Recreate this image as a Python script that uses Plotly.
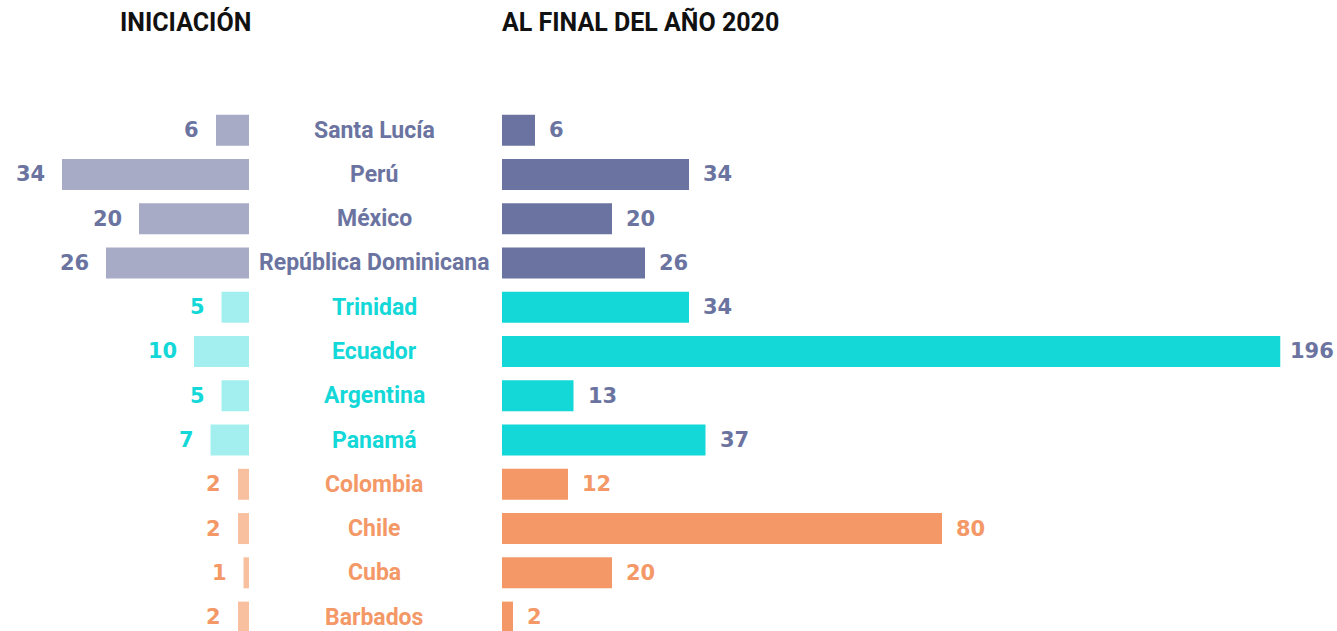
import plotly.graph_objects as go

countries = ["Santa Lucía", "Perú", "México", "República Dominicana", "Trinidad",
             "Ecuador", "Argentina", "Panamá", "Colombia", "Chile", "Cuba", "Barbados"]
inicio = [6, 34, 20, 26, 5, 10, 5, 7, 2, 2, 1, 2]
final_2020 = [6, 34, 20, 26, 34, 196, 13, 37, 12, 80, 20, 2]
group = ["a", "a", "a", "a", "b", "b", "b", "b", "c", "c", "c", "c"]
header_left = "INICIACIÓN"
header_right = "AL FINAL DEL AÑO 2020"
bar_cap = 141.5  # right-side bars are visually truncated at this length

W, H = 1337, 631
T = 108
px_per_unit = 5.5
left_zero = 249
right_zero = 502
row_px = 44.27

dark = {"a": "#6b74a0", "b": "#14d8d8", "c": "#f39866"}
light = {"a": "#a7abc6", "b": "#a3efef", "c": "#f9c0a0"}
lbl_left = {"a": "#6b74a0", "b": "#14d8d8", "c": "#f39866"}
lbl_right = {"a": "#6b74a0", "b": "#6b74a0", "c": "#f39866"}

ypos = list(range(len(countries)))
right_vals = [min(v, bar_cap) for v in final_2020]

fig = go.Figure()
fig.add_trace(go.Bar(y=ypos, x=inicio, orientation="h", xaxis="x", yaxis="y",
                     marker=dict(color=[light[g] for g in group], line=dict(width=0)),
                     width=0.7, hoverinfo="skip"))
fig.add_trace(go.Bar(y=ypos, x=right_vals, orientation="h", xaxis="x2", yaxis="y",
                     marker=dict(color=[dark[g] for g in group], line=dict(width=0)),
                     width=0.7, customdata=final_2020, hovertemplate="%{customdata}<extra></extra>"))

num_font = "DejaVu Sans"
cat_font = "Roboto"
ann = []
for i, c in enumerate(countries):
    g = group[i]
    ann.append(dict(x=inicio[i], y=i, xref="x", yref="y", text=str(inicio[i]),
                    xanchor="right", yanchor="middle", xshift=-15, showarrow=False,
                    font=dict(family=num_font, size=21, color=lbl_left[g], weight="bold")))
    gap = 8 if final_2020[i] > bar_cap else 12
    ann.append(dict(x=right_vals[i], y=i, xref="x2", yref="y", text=str(final_2020[i]),
                    xanchor="left", yanchor="middle", xshift=gap, showarrow=False,
                    font=dict(family=num_font, size=21, color=lbl_right[g], weight="bold")))
    ann.append(dict(x=374 / W, y=i, xref="paper", yref="y", text=c,
                    xanchor="center", yanchor="middle", showarrow=False,
                    font=dict(family=cat_font, size=23, color=dark[g], weight="bold")))

hdr_y = (H - 22) / (H - T)
ann.append(dict(x=185.5 / W, y=hdr_y, xref="paper", yref="paper", text=header_left,
                xanchor="center", yanchor="middle", showarrow=False,
                font=dict(family=cat_font, size=25, color="#111111", weight="bold")))
ann.append(dict(x=0, y=hdr_y, xref="x2 domain", yref="paper", text=header_right,
                xanchor="left", yanchor="middle", showarrow=False, xshift=-2,
                font=dict(family=cat_font, size=25, color="#111111", weight="bold")))

plot_h = H - T
units = plot_h / row_px
fig.update_layout(
    width=W, height=H,
    margin=dict(l=0, r=0, t=T, b=0),
    paper_bgcolor="white", plot_bgcolor="white",
    showlegend=False, barmode="overlay",
    xaxis=dict(domain=[0, left_zero / W], range=[left_zero / px_per_unit, 0],
               visible=False, fixedrange=True),
    xaxis2=dict(domain=[right_zero / W, 1], range=[0, (W - right_zero) / px_per_unit],
                visible=False, anchor="y", fixedrange=True),
    yaxis=dict(range=[-0.5 + units, -0.5], visible=False, fixedrange=True),
    annotations=ann,
)
fig.write_html(
    "out.html",
    config={"displayModeBar": False},
    post_script="document.body.style.margin='0';document.documentElement.style.overflow='hidden';",
)
